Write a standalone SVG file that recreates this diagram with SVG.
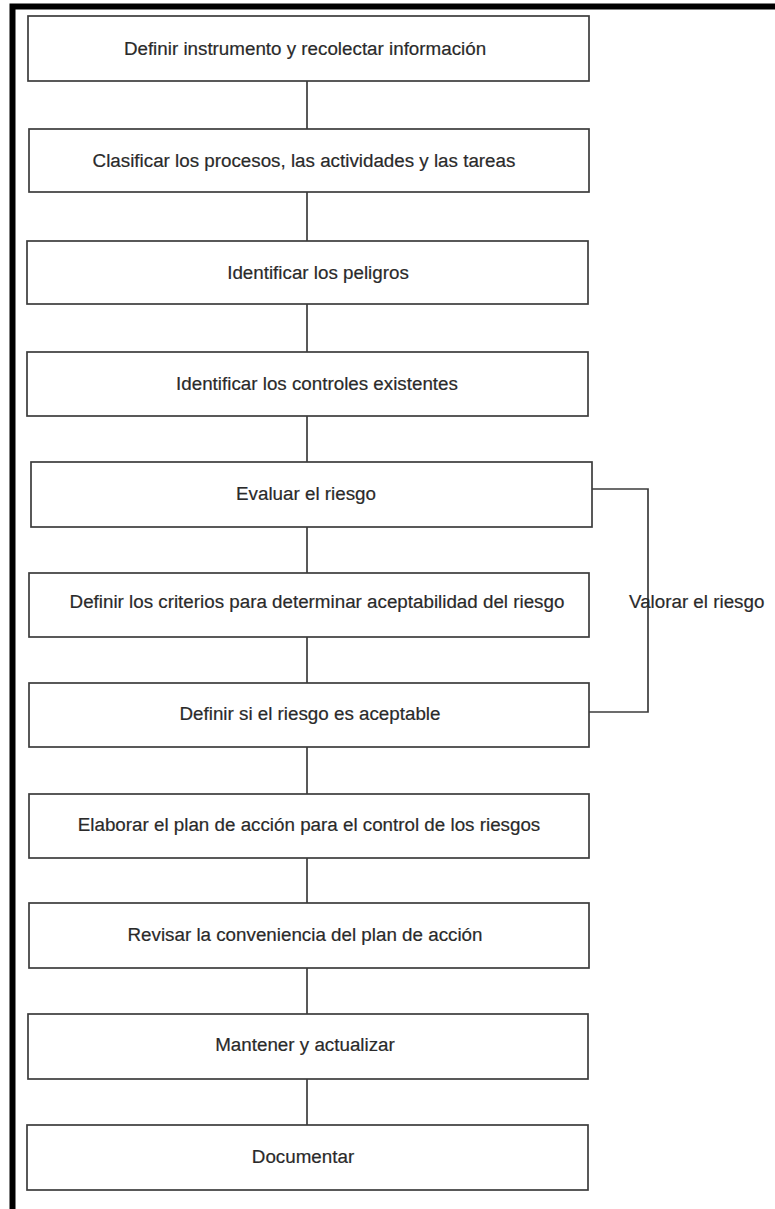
<svg xmlns="http://www.w3.org/2000/svg" width="775" height="1209" viewBox="0 0 775 1209">
  <style>
    .frame { fill: none; stroke: #000; stroke-width: 6; }
    .box rect { fill: #fff; stroke: #3c3c3c; stroke-width: 1.7; }
    .box text, .label { font-family: "Liberation Sans", Arial, sans-serif; font-size: 18.8px; fill: #2a2a2a; stroke: #2a2a2a; stroke-width: 0.2; text-anchor: middle; }
    .label { text-anchor: start; }
    .conn { fill: none; stroke: #3c3c3c; stroke-width: 1.7; }
  </style>
  <rect width="775" height="1209" fill="#fff"/>
  <!-- page frame: top and left edges only -->
  <path class="frame" d="M12.5,1209 V6.5 H775"/>

  <!-- connectors -->
  <g id="connectors" class="conn">
    <path d="M307,81 V129"/>
    <path d="M307,192 V241"/>
    <path d="M307,304 V352"/>
    <path d="M307,416 V462"/>
    <path d="M307,527 V573"/>
    <path d="M307,637 V683"/>
    <path d="M307,747 V794"/>
    <path d="M307,858 V903"/>
    <path d="M307,968 V1014"/>
    <path d="M307,1079 V1125"/>
    <!-- bracket grouping the valuation steps -->
    <path d="M588,489 H648 V712 H589"/>
  </g>

  <g id="n1" class="box"><rect x="28" y="16" width="561" height="65"/><text x="305" y="55">Definir instrumento y recolectar información</text></g>
  <g id="n2" class="box"><rect x="29" y="129" width="560" height="63"/><text x="304" y="167">Clasificar los procesos, las actividades y las tareas</text></g>
  <g id="n3" class="box"><rect x="27" y="241" width="561" height="63"/><text x="318" y="279">Identificar los peligros</text></g>
  <g id="n4" class="box"><rect x="27" y="352" width="561" height="64"/><text x="317" y="390">Identificar los controles existentes</text></g>
  <g id="n5" class="box"><rect x="31" y="462" width="561" height="65"/><text x="306" y="500">Evaluar el riesgo</text></g>
  <g id="n6" class="box"><rect x="29" y="573" width="560" height="64"/><text x="317" y="608">Definir los criterios para determinar aceptabilidad del riesgo</text></g>
  <g id="n7" class="box"><rect x="29" y="683" width="560" height="64"/><text x="310" y="720">Definir si el riesgo es aceptable</text></g>
  <g id="n8" class="box"><rect x="29" y="794" width="560" height="64"/><text x="309" y="831">Elaborar el plan de acción para el control de los riesgos</text></g>
  <g id="n9" class="box"><rect x="29" y="903" width="560" height="65"/><text x="305" y="941">Revisar la conveniencia del plan de acción</text></g>
  <g id="n10" class="box"><rect x="28" y="1014" width="560" height="65"/><text x="305" y="1051">Mantener y actualizar</text></g>
  <g id="n11" class="box"><rect x="27" y="1125" width="561" height="65"/><text x="303" y="1163">Documentar</text></g>

  <text id="valorar" class="label" x="629" y="608">Valorar el riesgo</text>
</svg>
